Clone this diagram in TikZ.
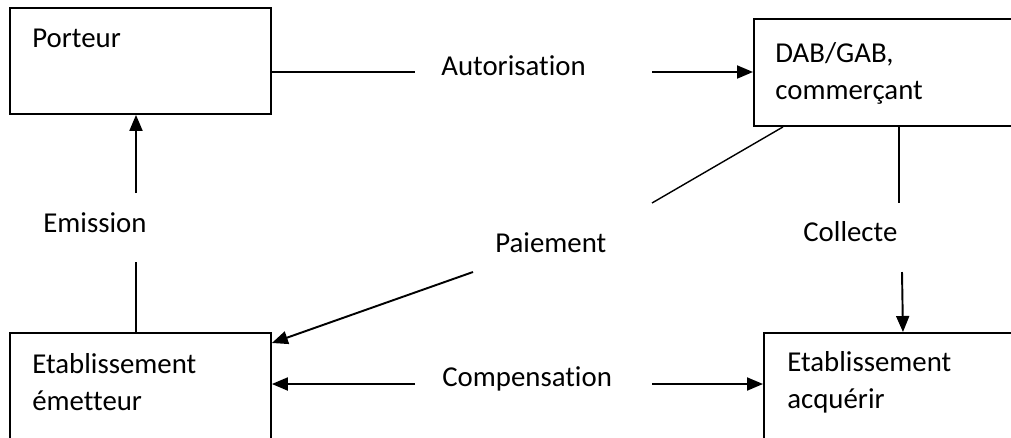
\documentclass[tikz,border=0pt]{standalone}
\usepackage{fontspec}
\setmainfont{Carlito}[Ligatures=NoCommon]
\usepackage{tikz}
\usetikzlibrary{arrows.meta}

\begin{document}
\begin{tikzpicture}[x=0.02cm, y=-0.02cm,
    box/.style={rectangle, draw=black, line width=1.1pt, anchor=north west, inner sep=0pt},
    boxtext/.style={anchor=base west, inner sep=0pt, align=left, font=\fontsize{16.4}{21}\selectfont},
    flowtext/.style={anchor=base west, inner sep=0pt, font=\fontsize{16.4}{21}\selectfont},
    link/.style={line width=0.8pt},
    arrow/.style={line width=1.1pt, -{Triangle[length=0.32cm, width=0.26cm]}}]

    \useasboundingbox (0,0) rectangle (1011,437);
    \clip (0,0) rectangle (1011,437);

    \node[box, minimum width=5.22cm, minimum height=2.12cm] (porteur) at (9,7) {};
    \node[box, minimum width=6.94cm, minimum height=2.14cm] (dab) at (753,18) {};
    \node[box, minimum width=5.22cm, minimum height=3cm] (emetteur) at (9,332) {};
    \node[box, minimum width=6.94cm, minimum height=3cm] (acquerir) at (763,332) {};

    % base anchor sits on the last line of each text
    \node[boxtext] (porteurtxt) at (32,47) {Porteur};
    \node[boxtext] (dabtxt) at (775,99) {DAB/GAB,\\commerçant};
    \node[boxtext] (emetteurtxt) at (32,410) {Etablissement\\émetteur};
    \node[boxtext] (acquerirtxt) at (787,408) {Etablissement\\acquérir};

    \node[flowtext] (autor) at (441,75) {Autorisation};
    \node[flowtext] (emis) at (43,232) {Emission};
    \node[flowtext] (paie) at (495,252) {Paiement};
    \node[flowtext] (coll) at (803,241) {Collecte};
    \node[flowtext] (comp) at (442,386) {Compensation};

    \coordinate (autorA) at (415,72);
    \coordinate (autorB) at (652,72);
    \coordinate (emisA) at (136,193);
    \coordinate (emisB) at (136,262);
    \coordinate (paieA) at (652,203);
    \coordinate (paieB) at (473,272);
    \coordinate (collA) at (899,203);
    \coordinate (collB) at (902,272);
    \coordinate (compA) at (415,384);
    \coordinate (compB) at (652,384);

    \draw[link] (porteur.east |- autorA) -- (autorA);
    \draw[arrow] (autorB) -- (dab.west |- autorB);
    \draw[arrow] (emisA) -- (emisA |- porteur.south);
    \draw[link] (emisB) -- (emisB |- emetteur.north);
    \draw[link] (dab.south west) ++(30,0) -- (paieA);
    \draw[arrow] (paieB) -- ([yshift=-0.22cm]emetteur.north east);
    \draw[link] (collA |- dab.south) -- (collA);
    \draw[arrow] (collB) -- ([xshift=2.8cm]acquerir.north west);
    \draw[arrow] (compA) -- (emetteur.east |- compA);
    \draw[arrow] (compB) -- (acquerir.west |- compB);
\end{tikzpicture}
\end{document}
